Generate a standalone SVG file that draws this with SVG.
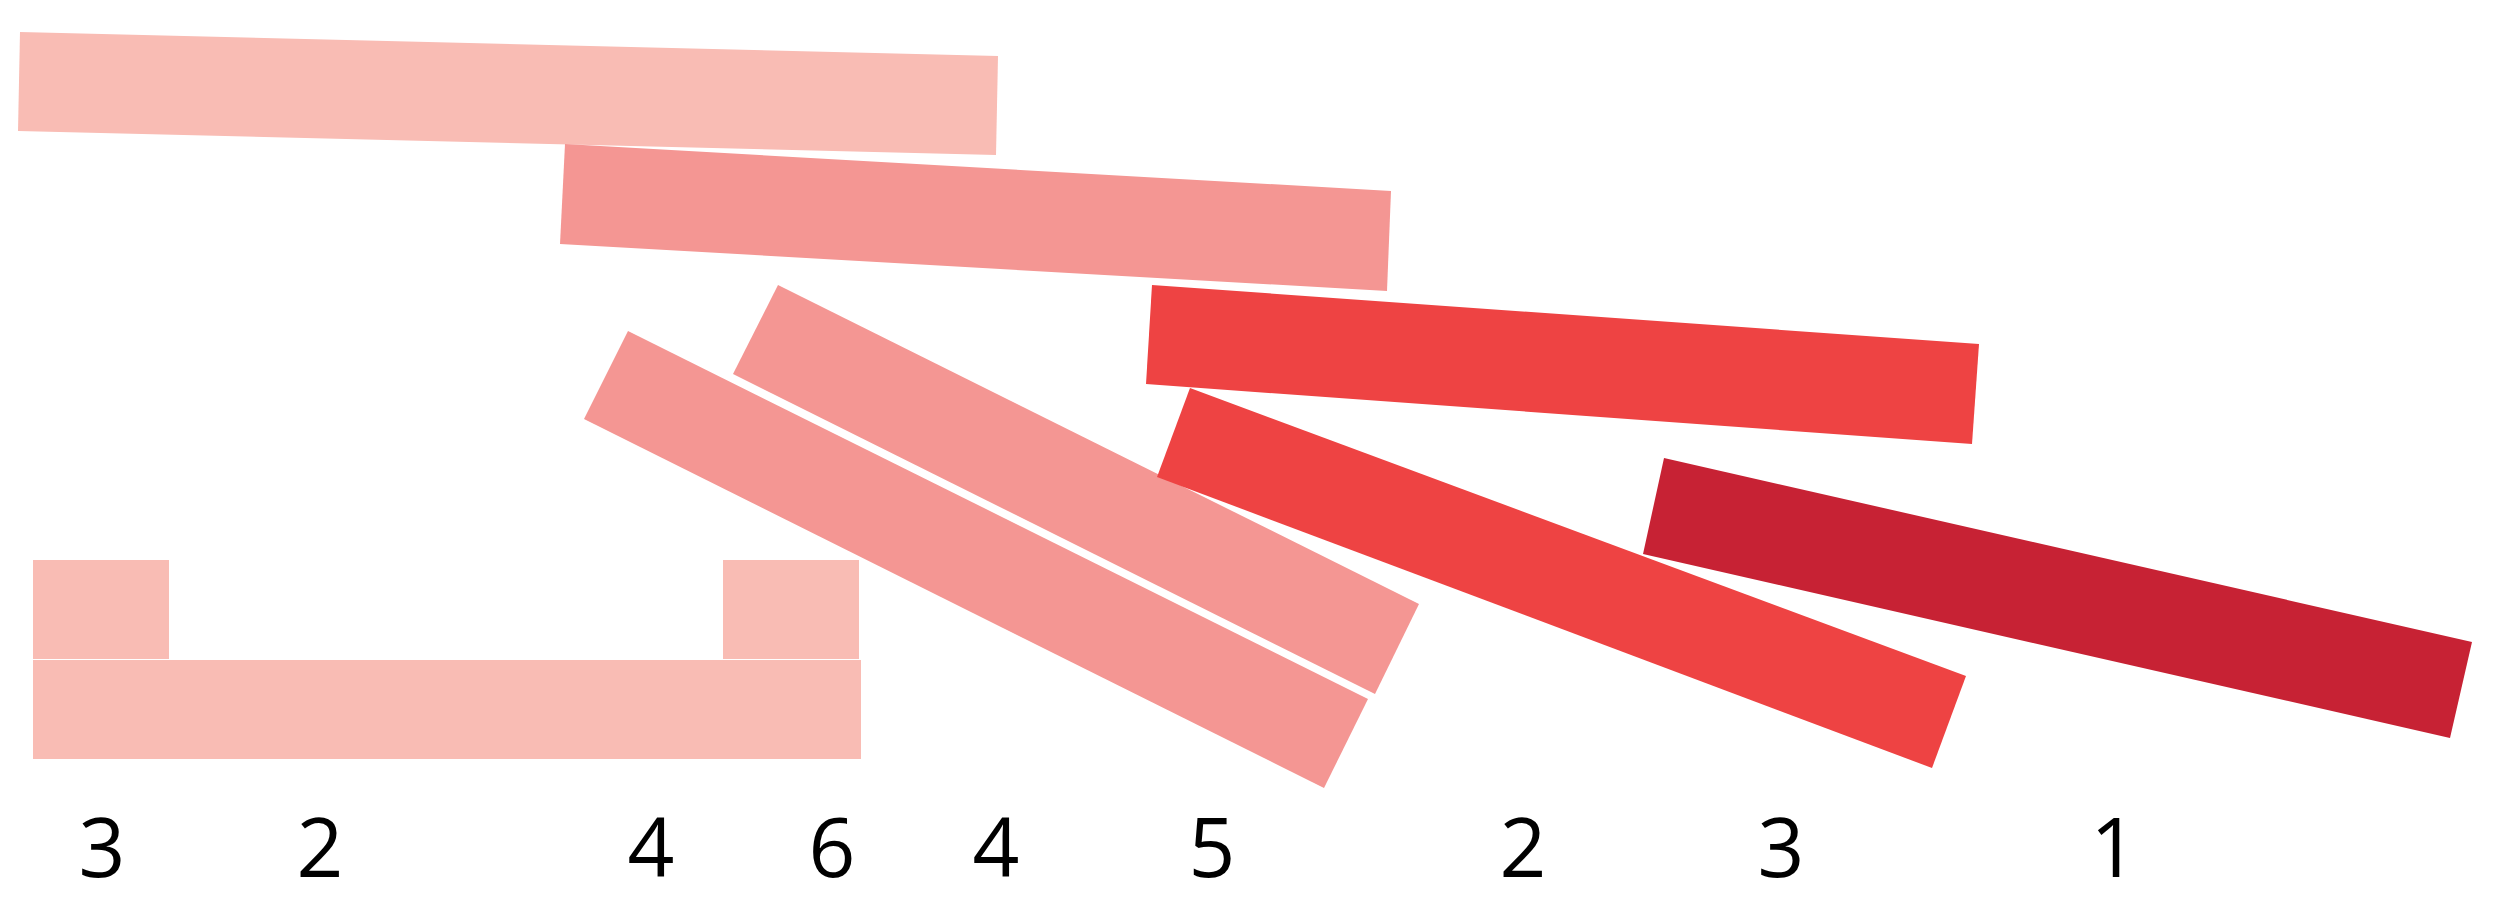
<svg xmlns="http://www.w3.org/2000/svg" width="2500" height="924" viewBox="0 0 2500 924">
<style>
.l1{fill:#F9BCB4}
.l2{fill:#F49693}
.l3{fill:#EE4343}
.l4{fill:#C72234}
.num{font-family:"Open Sans","Liberation Sans",sans-serif;font-size:82px;fill:#000;text-anchor:middle}
</style>
<rect width="2500" height="924" fill="#fff"/>
<g id="bar-a"><polygon class="l1" points="20,32 998,56 996,155 18,131"/></g>
<g id="bar-b"><polygon class="l2" points="565,144 1391,191 1387,291 560,244"/></g>
<g id="bar-c"><polygon class="l3" points="1152,285 1979,344 1972,444 1146,384"/></g>
<g id="bar-p1"><polygon class="l2" points="778,285 1419,604 1375,694 733,374"/></g>
<g id="bar-p2"><polygon class="l2" points="628,331 1368,699 1324,788 584,419"/></g>
<g id="bar-d"><polygon class="l3" points="1190,388 1966,676 1932,768 1157,477"/></g>
<g id="bar-e"><polygon class="l4" points="1664,458 2472,642 2450,738 1643,554"/></g>
<g id="square-left"><rect class="l1" x="33" y="560" width="136" height="99"/></g>
<g id="square-right"><rect class="l1" x="723" y="560" width="136" height="99"/></g>
<g id="base-bar"><rect class="l1" x="33" y="660" width="828" height="99"/></g>
<g id="labels">
<text class="num" x="102" y="877">3</text>
<text class="num" x="320" y="877">2</text>
<text class="num" x="651" y="877">4</text>
<text class="num" x="832" y="877">6</text>
<text class="num" x="996" y="877">4</text>
<text class="num" x="1212" y="877">5</text>
<text class="num" x="1523" y="877">2</text>
<text class="num" x="1781" y="877">3</text>
<text class="num" x="2114" y="877">1</text>
</g>
<g id="connectors"/>
</svg>
